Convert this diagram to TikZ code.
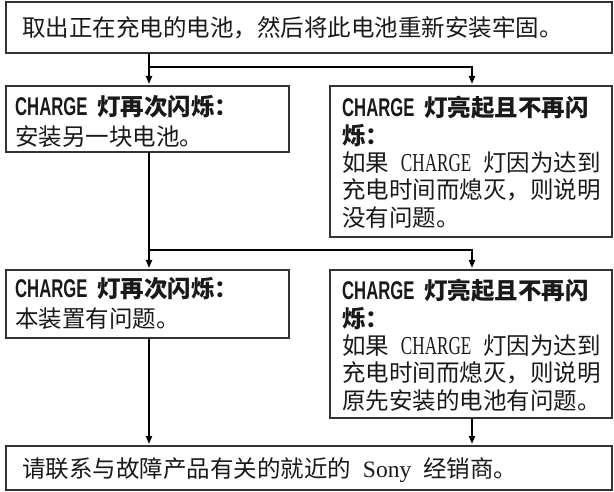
\documentclass[tikz,border=0pt]{standalone}
\usepackage{fontspec}
\usepackage{graphicx}
\usetikzlibrary{arrows.meta}
\setmainfont{Noto Sans CJK SC}
\newfontfamily\latsans{Liberation Sans}
\newfontfamily\latserif{Liberation Serif}
\newcommand{\chgH}{\makebox[3em][l]{\scalebox{0.71}[1.09]{\latsans\bfseries CHARGE}}}
\newcommand{\chgB}{\makebox[3em][l]{\scalebox{0.73}[1.1]{\latserif CHARGE}}}
\newcommand{\hs}{\hspace{0.5em}}
\newcommand{\stack}[1]{\vtop{#1}}
\begin{document}
\begin{tikzpicture}[x=1pt,y=-1pt,
  box/.style={draw=black!80, line width=1.1pt, inner sep=0pt, outer sep=0pt, anchor=north west},
  txt/.style={inner sep=0pt, anchor=base west, text=black!90, font=\fontsize{23.5}{27.3}\selectfont},
  wide/.style={font=\fontsize{23.5}{29.5}\selectfont},
  conn/.style={line width=2.3pt, line join=miter, -{Triangle[length=8pt,width=6pt]}, shorten >=2pt},
  plain/.style={line width=2.3pt}]
\useasboundingbox (0,0) rectangle (614,492);
% boxes
\node[box, minimum width=606pt, minimum height=51pt] (top) at (6,2) {};
\node[box, minimum width=283pt, minimum height=66pt] (l1) at (6,86) {};
\node[box, minimum width=282pt, minimum height=151pt] (r1) at (330,86) {};
\node[box, minimum width=283pt, minimum height=68pt] (l2) at (6,270) {};
\node[box, minimum width=282pt, minimum height=148pt] (r2) at (330,270) {};
\node[box, minimum width=606pt, minimum height=44pt] (bot) at (6,446) {};
% texts
\node[txt] (topt) at (22,37) {取出正在充电的电池，然后将此电池重新安装牢固。};
\node[txt, wide] (l1t) at (15,116) {\stack{\hbox{\bfseries\chgH\hs 灯再次闪烁：}\hbox{安装另一块电池。}}};
\node[txt] (r1t) at (342,117) {\stack{\hbox{\bfseries\chgH\hs 灯亮起且不再闪}\hbox{\bfseries 烁：}\hbox{如果\hs\chgB\hs 灯因为达到}\hbox{充电时间而熄灭，则说明}\hbox{没有问题。}}};
\node[txt, wide] (l2t) at (15,298) {\stack{\hbox{\bfseries\chgH\hs 灯再次闪烁：}\hbox{本装置有问题。}}};
\node[txt] (r2t) at (342,300) {\stack{\hbox{\bfseries\chgH\hs 灯亮起且不再闪}\hbox{\bfseries 烁：}\hbox{如果\hs\chgB\hs 灯因为达到}\hbox{充电时间而熄灭，则说明}\hbox{原先安装的电池有问题。}}};
\node[txt] (bott) at (22,477) {请联系与故障产品有关的就近的\hs{\latserif Sony}\hs 经销商。};
% connectors
\coordinate (j1) at (149,67);
\coordinate (j2) at (149,250);
\coordinate (xr) at (472,67);
\draw[plain] (top.south -| j1) -- (j1);
\draw[conn] (j1) -- (l1.north -| j1);
\draw[conn] (j1) -| (r1.north -| xr);
\draw[conn] (l1.south -| j1) -- (l2.north -| j1);
\draw[conn] (j2) -| (r2.north -| xr);
\draw[conn] (l2.south -| j1) -- (bot.north -| j1);
\draw[conn] (r2.south -| xr) -- (bot.north -| xr);
\end{tikzpicture}
\end{document}
